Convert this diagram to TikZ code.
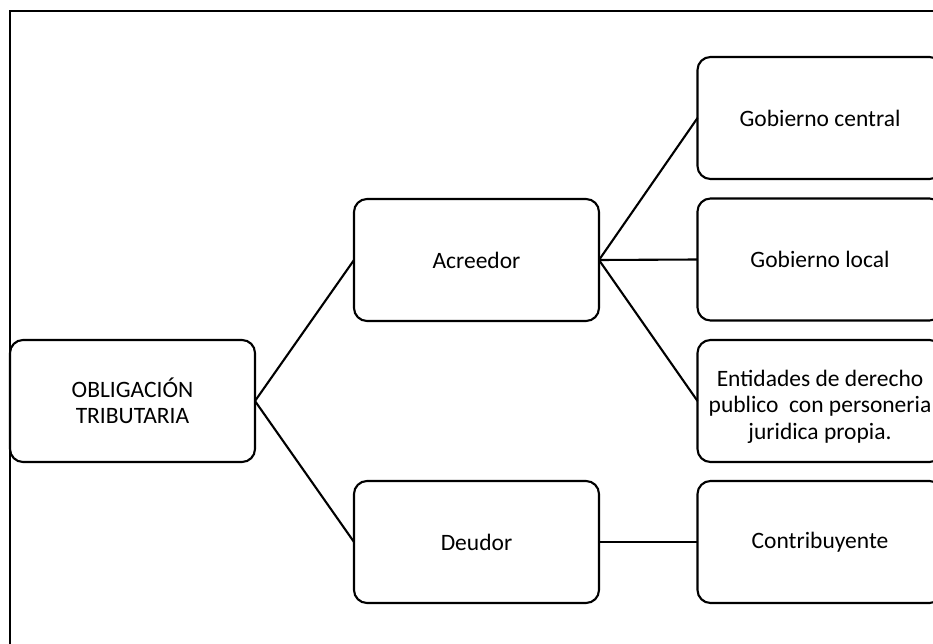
\documentclass[tikz,border=0pt]{standalone}
\usepackage{fontspec}
\setmainfont{Carlito}
\begin{document}
\begin{tikzpicture}[x=1pt,y=-1pt,
  box/.style={draw=black, line width=2.1pt, rounded corners=13pt, minimum width=245pt, minimum height=122pt, inner sep=0pt, outer sep=0pt, align=center, font=\fontsize{23.5}{26.5}\selectfont},
  conn/.style={draw=black, line width=2.1pt}]
\useasboundingbox (0,0) rectangle (933,644);
\clip (0,0) rectangle (933,644);
\fill[white] (0,0) rectangle (933,644);
\draw[line width=2pt] (9.5,700) -- (9.5,11.5) -- (960,11.5);
\node[box] (ob) at (132.5,401) {OBLIGACIÓN\\TRIBUTARIA};
\node[box] (acr) at (476.5,260) {Acreedor};
\node[box] (deu) at (476.5,542) {Deudor};
\node[box] (gc) at (820,118) {Gobierno central};
\node[box] (gl) at (820,259.5) {Gobierno local};
\node[box] (ent) at (820,401) {\rule{0pt}{28pt}Entidades de derecho\\publico~ con personeria\\juridica propia.};
\node[box] (con) at (820,542) {Contribuyente};
\draw[conn] (ob.east) -- (acr.west);
\draw[conn] (ob.east) -- (deu.west);
\draw[conn] (acr.east) -- (gc.west);
\draw[conn] (acr.east) -- (gl.west);
\draw[conn] (acr.east) -- (ent.west);
\draw[conn] (deu.east) -- (con.west);
\end{tikzpicture}
\end{document}
